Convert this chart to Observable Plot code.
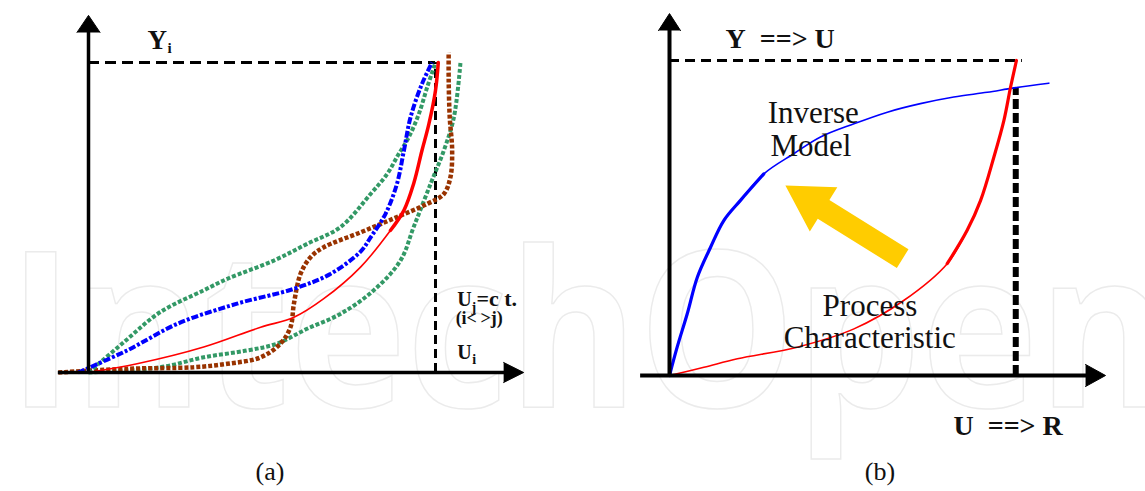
<!DOCTYPE html>
<html>
<head>
<meta charset="utf-8">
<script src="https://cdn.jsdelivr.net/npm/d3@7"></script>
<script src="https://cdn.jsdelivr.net/npm/@observablehq/plot@0.6"></script>
<style>
  html, body { margin: 0; padding: 0; background: #fff; }
  #wrap { position: relative; width: 1145px; height: 491px; overflow: hidden; background: #fff; }
  #wm { position: absolute; left: 0; top: 0; z-index: 0; }
  .panel { position: absolute; top: 0; z-index: 1; }
  .panel svg { max-width: none; }
  .cap { position: absolute; top: 457px; width: 80px; text-align: center; font-family: "Liberation Serif", serif; font-size: 26px; color: #111; z-index: 2; }
</style>
</head>
<body>
<div id="wrap">
  <svg id="wm" width="1145" height="491"></svg>
  <div id="pa" class="panel" style="left:0px;width:560px"></div>
  <div id="pb" class="panel" style="left:560px;width:585px"></div>
  <div class="cap" style="left:230px">(a)</div>
  <div class="cap" style="left:840px">(b)</div>
</div>
<script>
// ---------------- data (normalised input U, output Y) ----------------
// Panel (a): several process characteristics Y_i(U_i) for different U_j = const.
const aRed = [[0,0],[0.14,0.028],[0.332,0.082],[0.496,0.146],[0.592,0.178],[0.678,0.238],[0.784,0.34],[0.87,0.458],[0.909,0.523],[0.937,0.609],[0.961,0.716],[0.981,0.802],[1.0,0.91],[1.008,1.0]];
const aBlue = [[-0.03,0],[0.111,0.071],[0.256,0.157],[0.428,0.222],[0.592,0.27],[0.697,0.318],[0.784,0.39],[0.813,0.436],[0.856,0.512],[0.889,0.609],[0.909,0.716],[0.928,0.823],[0.961,0.931],[0.99,1.0]];
const aGreenUpper = [[0,0],[0.102,0.098],[0.207,0.195],[0.332,0.265],[0.4,0.302],[0.534,0.361],[0.63,0.415],[0.726,0.469],[0.813,0.576],[0.861,0.641],[0.894,0.705],[0.923,0.759],[0.952,0.834],[0.976,0.92],[1.0,1.0]];
const aGreenLower = [[0,0],[0.207,0.017],[0.332,0.049],[0.457,0.071],[0.543,0.093],[0.63,0.141],[0.726,0.189],[0.822,0.265],[0.899,0.361],[0.937,0.469],[0.986,0.609],[1.024,0.716],[1.053,0.823],[1.072,1.0]];
const aBrown = [[-0.087,0],[0.111,0.012],[0.303,0.017],[0.4,0.028],[0.496,0.049],[0.553,0.093],[0.582,0.146],[0.592,0.222],[0.611,0.318],[0.64,0.372],[0.678,0.404],[0.784,0.452],[0.88,0.497],[0.976,0.544],[1.024,0.576],[1.043,0.63],[1.048,0.716],[1.041,0.823],[1.038,0.942],[1.038,1.033]];
// Panel (b): process characteristic and its inverse model
const bProcess = [[0,0],[0.099,0.026],[0.195,0.053],[0.367,0.09],[0.53,0.148],[0.673,0.238],[0.798,0.355],[0.855,0.46],[0.894,0.556],[0.932,0.693],[0.961,0.81],[0.98,0.915],[0.997,1.0]];
const bInverse = [[0,0],[0.022,0.09],[0.051,0.196],[0.08,0.312],[0.118,0.407],[0.156,0.492],[0.204,0.556],[0.271,0.64],[0.357,0.704],[0.434,0.757],[0.53,0.799],[0.626,0.836],[0.721,0.863],[0.817,0.884],[0.913,0.899],[0.99,0.913],[1.09,0.928]];
// operating point and yellow arrow (tail -> head) in panel (b)
const bOperating = {u: 0.995, y: 0.913};
const bArrow = {tail: [0.67, 0.371], head: [0.333, 0.603]};
// axis extents (data units)
const aAxisX = [-0.087, 1.254], aAxisY = [0, 1.152];
const bAxisX = [-0.083, 1.253], bAxisY = [0, 1.149];
// annotations (text, data position)
const aLabels = {
  Y: {t: "Y", u: 0.17, y: 1.045}, Ysub: {t: "i", u: 0.228, y: 1.032},
  Uj: {t: "U", u: 1.063, y: 0.216}, UjSub: {t: "j", u: 1.104, y: 0.195}, Uj2: {t: "=c\u00a0t.", u: 1.118, y: 0.216},
  ij: {t: "(i<\u2009>j)", u: 1.058, y: 0.155},
  Ui: {t: "U", u: 1.063, y: 0.045}, UiSub: {t: "i", u: 1.106, y: 0.027}
};
const bLabels = {
  top: {t: "Y\u00a0\u00a0==>\u00a0U", u: 0.161, y: 1.041},
  bottom: {t: "U\u00a0\u00a0==>\u00a0R", u: 0.816, y: -0.19},
  inv1: {t: "Inverse", u: 0.282, y: 0.803}, inv2: {t: "Model", u: 0.29, y: 0.698},
  pr1: {t: "Process", u: 0.44, y: 0.19}, pr2: {t: "Characteristic", u: 0.328, y: 0.086}
};

// ---------------- geometry ----------------
const H = 440;
const gA = {w: 560, left: 88, right: 125, top: 62, bottom: 68};
const gB = {w: 585, left: 109, right: 128, top: 60, bottom: 65};
const kx = g => g.w - g.left - g.right;   // px per unit
const ky = g => H - g.top - g.bottom;
const toPx = (p, g) => [p[0] * kx(g), -p[1] * ky(g)];
const toData = (q, g) => [q[0] / kx(g), -q[1] / ky(g)];

function headTriangle(tip, dir, len, half, g) {
  const T = toPx(tip, g);
  const b = [T[0] - dir[0] * len, T[1] - dir[1] * len];
  const n = [-dir[1], dir[0]];
  return [[b[0] + n[0] * half, b[1] + n[1] * half], T, [b[0] - n[0] * half, b[1] - n[1] * half]].map(q => toData(q, g));
}
function blockArrow(tail, head, shaftHalf, headHalf, headLen, g) {
  const T = toPx(tail, g), Hh = toPx(head, g);
  const dx = Hh[0] - T[0], dy = Hh[1] - T[1], L = Math.hypot(dx, dy);
  const e = [dx / L, dy / L], n = [-e[1], e[0]];
  const b = [Hh[0] - e[0] * headLen, Hh[1] - e[1] * headLen];
  const P = (o, s) => [o[0] + n[0] * s, o[1] + n[1] * s];
  return [P(T, shaftHalf), P(b, shaftHalf), P(b, headHalf), Hh, P(b, -headHalf), P(b, -shaftHalf), P(T, -shaftHalf)].map(q => toData(q, g));
}

const X = d => d[0], Y = d => d[1];
const serif = "Liberation Serif";
function txt(l, opts) {
  return Plot.text([l], {x: "u", y: "y", text: "t", textAnchor: "start", lineAnchor: "bottom", fontFamily: serif, fill: "#111", ...opts});
}
function axes(g, ax, ay, sw, hxLen, hxHalf, hyLen, hyHalf) {
  return [
    Plot.ruleY([0], {x1: ax[0], x2: ax[1] - (hxLen * 0.6) / kx(g), stroke: "black", strokeWidth: sw}),
    Plot.ruleX([0], {y1: 0, y2: ay[1] - (hyLen * 0.6) / ky(g), stroke: "black", strokeWidth: sw}),
    Plot.line(headTriangle([ax[1], 0], [1, 0], hxLen, hxHalf, g), {x: X, y: Y, fill: "black", stroke: "black", strokeWidth: 1, curve: "linear"}),
    Plot.line(headTriangle([0, ay[1]], [0, -1], hyLen, hyHalf, g), {x: X, y: Y, fill: "black", stroke: "black", strokeWidth: 1, curve: "linear"})
  ];
}
function base(g, marks) {
  return Plot.plot({
    width: g.w, height: H,
    marginLeft: g.left, marginRight: g.right, marginTop: g.top, marginBottom: g.bottom,
    x: {domain: [0, 1], axis: null},
    y: {domain: [0, 1], axis: null},
    style: {background: "transparent", overflow: "visible", fontFamily: serif},
    marks
  });
}
const curve = "catmull-rom";
const dashed = (color, w, dash) => ({x: X, y: Y, stroke: color, strokeWidth: w, strokeDasharray: dash, strokeLinecap: "butt", strokeLinejoin: "miter", curve});

// ---------------- panel (a) ----------------
const plotA = base(gA, [
  Plot.ruleY([1], {x1: 0, x2: 1, stroke: "black", strokeWidth: 3, strokeDasharray: "11,6"}),
  Plot.ruleX([1], {y1: 0, y2: 1, stroke: "black", strokeWidth: 3, strokeDasharray: "9,5"}),
  Plot.line(aGreenLower, dashed("#339966", 4, "4,2")),
  Plot.line(aBrown, dashed("#993300", 4.5, "4,2")),
  Plot.line(aGreenUpper, dashed("#339966", 4, "4,2")),
  Plot.line(aRed, {x: X, y: Y, stroke: "#ff0000", strokeWidth: 1.6, curve}),
  Plot.line(aRed.filter(p => p[1] >= 0.45), {x: X, y: Y, stroke: "#ff0000", strokeWidth: 3.5, curve}),
  Plot.line(aBlue, dashed("#0000ff", 4, "7,2,3,2")),
  ...axes(gA, aAxisX, aAxisY, 3.5, 20, 10, 17, 11.5),
  txt(aLabels.Y, {fontSize: 27, fontWeight: "bold"}),
  txt(aLabels.Ysub, {fontSize: 15, fontWeight: "bold"}),
  txt(aLabels.Uj, {fontSize: 20, fontWeight: "bold"}),
  txt(aLabels.UjSub, {fontSize: 14, fontWeight: "bold"}),
  txt(aLabels.Uj2, {fontSize: 22, fontWeight: "bold"}),
  txt(aLabels.ij, {fontSize: 18, fontWeight: "bold"}),
  txt(aLabels.Ui, {fontSize: 20, fontWeight: "bold"}),
  txt(aLabels.UiSub, {fontSize: 14, fontWeight: "bold"})
]);
document.getElementById("pa").appendChild(plotA);

// ---------------- panel (b) ----------------
const plotB = base(gB, [
  Plot.ruleY([1], {x1: 0, x2: 1.014, stroke: "black", strokeWidth: 3, strokeDasharray: "10,6"}),
  Plot.ruleX([bOperating.u], {y1: 0, y2: bOperating.y, stroke: "black", strokeWidth: 6, strokeDasharray: "10,4"}),
  Plot.line(blockArrow(bArrow.tail, bArrow.head, 11, 26, 45, gB), {x: X, y: Y, fill: "#ffcc00", stroke: "none", curve: "linear"}),
  Plot.line(bInverse, {x: X, y: Y, stroke: "#0000ff", strokeWidth: 1.6, curve}),
  Plot.line(bInverse.filter(p => p[1] <= 0.7), {x: X, y: Y, stroke: "#0000ff", strokeWidth: 3.2, curve}),
  Plot.line(bProcess, {x: X, y: Y, stroke: "#ff0000", strokeWidth: 1.6, curve}),
  Plot.line(bProcess.filter(p => p[1] >= 0.33), {x: X, y: Y, stroke: "#ff0000", strokeWidth: 3.2, curve}),
  ...axes(gB, bAxisX, bAxisY, 4, 20, 11, 17, 11),
  txt(bLabels.top, {fontSize: 28, fontWeight: "bold"}),
  txt(bLabels.bottom, {fontSize: 28, fontWeight: "bold"}),
  txt(bLabels.inv1, {fontSize: 31}),
  txt(bLabels.inv2, {fontSize: 31}),
  txt(bLabels.pr1, {fontSize: 31}),
  txt(bLabels.pr2, {fontSize: 31})
]);
document.getElementById("pb").appendChild(plotB);

// ---------------- faint publisher watermark ----------------
d3.select("#wm").append("text")
  .attr("x", 8).attr("y", 407)
  .attr("font-family", "Open Sans").attr("font-weight", 700).attr("font-size", 218)
  .attr("textLength", 1160).attr("lengthAdjust", "spacingAndGlyphs")
  .attr("fill", "none").attr("stroke", "#ebebeb").attr("stroke-width", 1.5)
  .text("IntechOpen");
</script>
</body>
</html>
